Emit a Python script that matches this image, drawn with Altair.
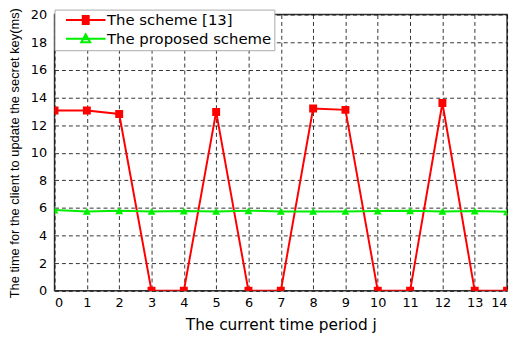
import altair as alt
import pandas as pd

periods = list(range(15))
scheme13 = [13.05, 13.05, 12.8, 0, 0, 12.95, 0, 0, 13.2, 13.1, 0, 0, 13.6, 0, 0]
proposed = [5.85, 5.75, 5.8, 5.75, 5.78, 5.75, 5.8, 5.75, 5.75, 5.75, 5.78, 5.8, 5.75, 5.78, 5.72]
series_names = ["The scheme [13]", "The proposed scheme"]
series_colors = ["#ff0000", "#00ee00"]
marker_shapes = ["square", "triangle-up"]
# legend glyphs: a line with a marker drawn by stacked strokes
legend_shapes = [
    "M-4,0H4M-0.8,-0.8H0.8M-0.8,-0.4H0.8M-0.8,0.4H0.8M-0.8,0.8H0.8",
    "M-4,0H4M0,-0.9L0.9,0.7H-0.9ZM-0.45,0.1H0.45M-0.2,-0.4H0.2",
]
x_ticks = list(range(15))
y_ticks = list(range(0, 21, 2))

rows = []
for s, vals in zip(series_names, [scheme13, proposed]):
    for p, v in zip(periods, vals):
        rows.append({"period": p, "series": s, "value": v})
df = pd.DataFrame(rows)

x = alt.X("period:Q", scale=alt.Scale(domain=[0, 14], nice=False),
          axis=alt.Axis(values=x_ticks, title="The current time period j", format="d",
                        titleFont="DejaVu Sans", titleFontSize=15.5))
y = alt.Y("value:Q", scale=alt.Scale(domain=[0, 20], nice=False),
          axis=alt.Axis(values=y_ticks, title="The time for the client to update the secret key(ms)", format="d",
                        titleFont="Liberation Sans", titleFontSize=13, titleLimit=400))
col = alt.Color("series:N", scale=alt.Scale(domain=series_names, range=series_colors), legend=None)

lines = alt.Chart(df).mark_line(strokeWidth=2, clip=True).encode(x=x, y=y, color=col, detail="series:N")
points = alt.Chart(df).mark_point(filled=True, size=64, opacity=1, clip=True).encode(
    x=x, y=y, color=col,
    shape=alt.Shape("series:N", scale=alt.Scale(domain=series_names, range=marker_shapes), legend=None))

leg = alt.Legend(orient="none", legendX=0, legendY=-5, direction="vertical", title=None,
                 fillColor="white", strokeColor="#aaa", padding=3, labelFontSize=15,
                 labelFont="DejaVu Sans", labelColor="black", labelLimit=400, symbolStrokeWidth=2,
                 symbolSize=100, rowPadding=2, symbolOffset=21, labelOffset=14, symbolOpacity=1)
legend_layer = alt.Chart(df).mark_point(filled=False, size=100, opacity=1, strokeWidth=2).encode(
    x=x, y=y,
    color=alt.Color("series:N", scale=alt.Scale(domain=series_names, range=series_colors), legend=leg),
    shape=alt.Shape("series:N", scale=alt.Scale(domain=series_names, range=legend_shapes), legend=leg),
).transform_filter("datum.period < 0")

chart = alt.layer(lines, points, legend_layer).resolve_scale(
    shape="independent", color="independent").properties(
    width=457, height=279,
    autosize=alt.AutoSizeParams(type="none"),
    padding={"left": 47, "top": 5, "right": 6, "bottom": 44},
).configure_view(stroke="#333", strokeWidth=1.5).configure_axis(
    grid=True, gridColor="#000", gridDash=[4, 3], gridOpacity=0.8, gridWidth=1,
    domain=False, ticks=False, labelFont="DejaVu Sans", labelFontSize=13, labelColor="black",
    titleFontWeight="normal", titleColor="black",
).configure_axisX(labelPadding=6, titlePadding=8).configure_axisY(labelPadding=8, titlePadding=9)

chart.save("out.html", embed_options={"renderer": "svg", "actions": False})
